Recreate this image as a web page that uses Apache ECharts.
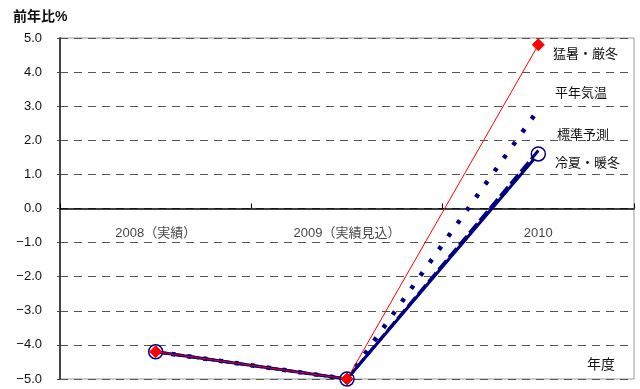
<!DOCTYPE html>
<html>
<head>
<meta charset="utf-8">
<script src="https://cdn.jsdelivr.net/npm/echarts@6/dist/echarts.min.js"></script>
<style>
  html, body { margin: 0; padding: 0; background: #fff; }
  #chart { width: 640px; height: 389px; }
</style>
</head>
<body>
<div id="chart"></div>
<script>
// 年度別 前年比（%）
const categories = ['2008（実績）', '2009（実績見込）', '2010'];
const hotColdWinter = [-4.2, -5.0, 4.8];   // 猛暑・厳冬
const normalTemp    = [-4.2, -5.0, 2.9];   // 平年気温
const standardCase  = [-4.2, -5.0, 1.7];   // 標準予測
const coolMildWinter = [-4.2, -5.0, 1.6];  // 冷夏・暖冬
const seriesNames = ['猛暑・厳冬', '平年気温', '標準予測', '冷夏・暖冬'];
const yTicks = [-5, -4, -3, -2, -1, 0, 1, 2, 3, 4, 5];

const NAVY = '#000080';
const FONT = '"Liberation Sans", "Noto Sans CJK JP", sans-serif';

const chart = echarts.init(document.getElementById('chart'));

chart.setOption({
  animation: false,
  backgroundColor: '#fff',
  textStyle: { fontFamily: FONT },
  grid: {
    left: 60, right: 6, top: 38, bottom: 10,
    outerBoundsMode: 'none',
    containLabel: false,
    show: true, borderColor: '#999', borderWidth: 1
  },
  xAxis: {
    type: 'category',
    data: categories,
    boundaryGap: true,
    axisLine: { onZero: true, lineStyle: { color: '#000', width: 1.5 } },
    axisTick: { show: true, inside: true, length: 5, lineStyle: { color: '#000' } },
    axisLabel: { show: false },
    splitLine: { show: false }
  },
  yAxis: {
    type: 'value',
    min: yTicks[0],
    max: yTicks[yTicks.length - 1],
    interval: 1,
    axisLine: { show: true, lineStyle: { color: '#444', width: 2 } },
    axisTick: { show: true, length: 3, lineStyle: { color: '#444' } },
    axisLabel: {
      color: '#111', fontSize: 13, margin: 18, fontFamily: FONT,
      formatter: v => (v < 0 ? '−' : '') + Math.abs(v).toFixed(1)
    },
    splitLine: { show: true, lineStyle: { color: '#555', type: [8, 6], width: 1 } }
  },
  series: [
    {
      // 年度ラベルを 0 の線のすぐ下に置く
      name: 'year-labels',
      type: 'scatter',
      data: categories.map(c => [c, 0]),
      symbol: 'circle',
      symbolSize: 0,
      itemStyle: { color: 'rgba(0,0,0,0)' },
      silent: true,
      label: {
        show: true,
        position: 'bottom',
        distance: 18,
        formatter: p => p.value[0],
        color: '#111', fontSize: 13, fontFamily: FONT
      },
      z: 1
    },
    {
      name: seriesNames[3],
      type: 'line',
      data: coolMildWinter,
      lineStyle: { color: NAVY, width: 3 },
      symbol: 'circle',
      symbolSize: 14,
      itemStyle: { color: '#fff', borderColor: NAVY, borderWidth: 1.5 },
      z: 2
    },
    {
      name: seriesNames[2],
      type: 'line',
      data: standardCase,
      lineStyle: { color: NAVY, width: 3, type: [12, 4] },
      symbol: 'none',
      z: 3
    },
    {
      name: seriesNames[1],
      type: 'line',
      data: normalTemp,
      lineStyle: { color: NAVY, width: 4.5, type: [4, 12], cap: 'butt' },
      symbol: 'none',
      z: 3
    },
    {
      name: seriesNames[0],
      type: 'line',
      data: hotColdWinter,
      lineStyle: { color: '#ff0000', width: 1 },
      symbol: 'diamond',
      symbolSize: 12,
      itemStyle: { color: '#ff0000', borderColor: '#ff0000' },
      z: 5
    }
  ],
  graphic: [
    { type: 'text', left: 13, top: 10,
      style: { text: '前年比%', font: 'bold 14px ' + FONT, fill: '#111' } },
    { type: 'text', left: 587, top: 358,
      style: { text: '年度', font: '14px ' + FONT, fill: '#111' } },
    { type: 'text', left: 553, top: 48,
      style: { text: seriesNames[0], font: '13px ' + FONT, fill: '#111' } },
    { type: 'text', left: 555, top: 87,
      style: { text: seriesNames[1], font: '13px ' + FONT, fill: '#111' } },
    { type: 'text', left: 557, top: 129,
      style: { text: seriesNames[2], font: '13px ' + FONT, fill: '#111' } },
    { type: 'text', left: 555, top: 157,
      style: { text: seriesNames[3], font: '13px ' + FONT, fill: '#111' } }
  ]
});
</script>
</body>
</html>
